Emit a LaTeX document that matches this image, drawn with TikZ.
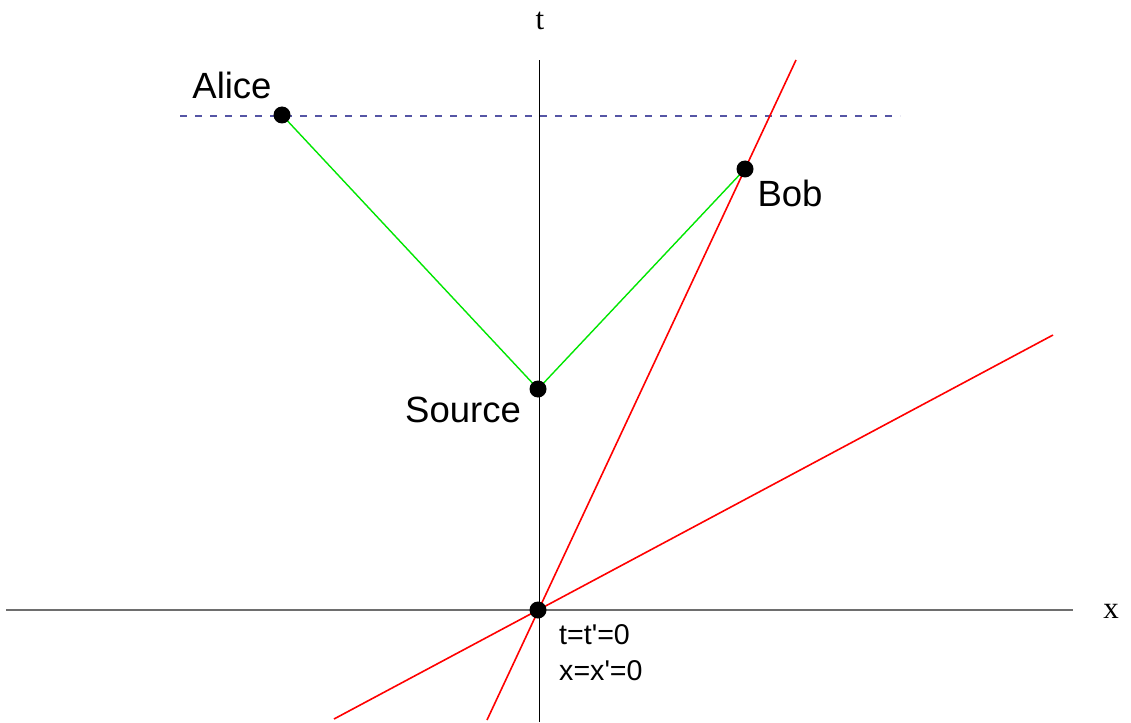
\documentclass[tikz,border=0pt]{standalone}
\usepackage{fontspec}
\setmainfont{Liberation Sans}
\newfontfamily\serifaxis{Liberation Serif}
\definecolor{dashblue}{RGB}{85,85,165}
\definecolor{axisgray}{RGB}{110,110,110}
\definecolor{lgreen}{RGB}{0,230,0}
\begin{document}
\begin{tikzpicture}[x=1pt,y=-1pt,
  dot/.style={circle,fill=black,inner sep=0pt,minimum size=17pt},
  lbl/.style={font=\fontsize{36.5}{42}\selectfont,inner sep=0pt},
  small/.style={font=\fontsize{28.6}{34}\selectfont,inner sep=0pt,anchor=base west},
  axlbl/.style={font=\serifaxis\fontsize{31}{36}\selectfont,inner sep=0pt,anchor=base},
  redline/.style={red,line width=1.6pt},
  greenline/.style={lgreen,line width=1.4pt}]
\useasboundingbox (0,0) rectangle (1131,722);
% coordinates
\coordinate (o) at (538,610);
\coordinate (s) at (538,389);
\coordinate (a) at (282,115);
\coordinate (b) at (745,169);
\coordinate (tbot) at (539,722);
\coordinate (ttop) at (539,60);
\coordinate (xl) at (6,610);
\coordinate (xr) at (1073,610);
\coordinate (r1a) at (487,720);
\coordinate (r1b) at (796,60);
\coordinate (r2a) at (334,719);
\coordinate (r2b) at (1053,335);
\coordinate (dl) at (180,116);
\coordinate (dr) at (900,116);
% axes
\draw[axisgray,line width=1.5pt] (xl) -- (xr);
\draw[black,line width=1pt] (tbot) -- (ttop);
% dashed simultaneity line
\draw[dashblue,line width=1.4pt,dash pattern=on 7pt off 8pt] (dl) -- (dr);
% red lines
\draw[redline] (r1a) -- (r1b);
\draw[redline] (r2a) -- (r2b);
% green light paths
\draw[greenline] (a) -- (s) -- (b);
% dots
\node[dot] (origin) at (o) {};
\node[dot] (source) at (s) {};
\node[dot] (alice) at (a) {};
\node[dot] (bob) at (b) {};
% labels
\node[lbl,anchor=base] (alicel) at (232,99) {Alice};
\node[lbl,anchor=base] (bobl) at (790,206) {Bob};
\node[lbl,anchor=base] (sourcel) at (463,422) {Source};
\node[small] (tl) at (559,644) {t=t\textquotesingle=0};
\node[small] (xlab) at (559,680) {x=x\textquotesingle=0};
\node[axlbl] (taxis) at (540,30) {t};
\node[axlbl] (xaxis) at (1111,618) {x};
\end{tikzpicture}
\end{document}
